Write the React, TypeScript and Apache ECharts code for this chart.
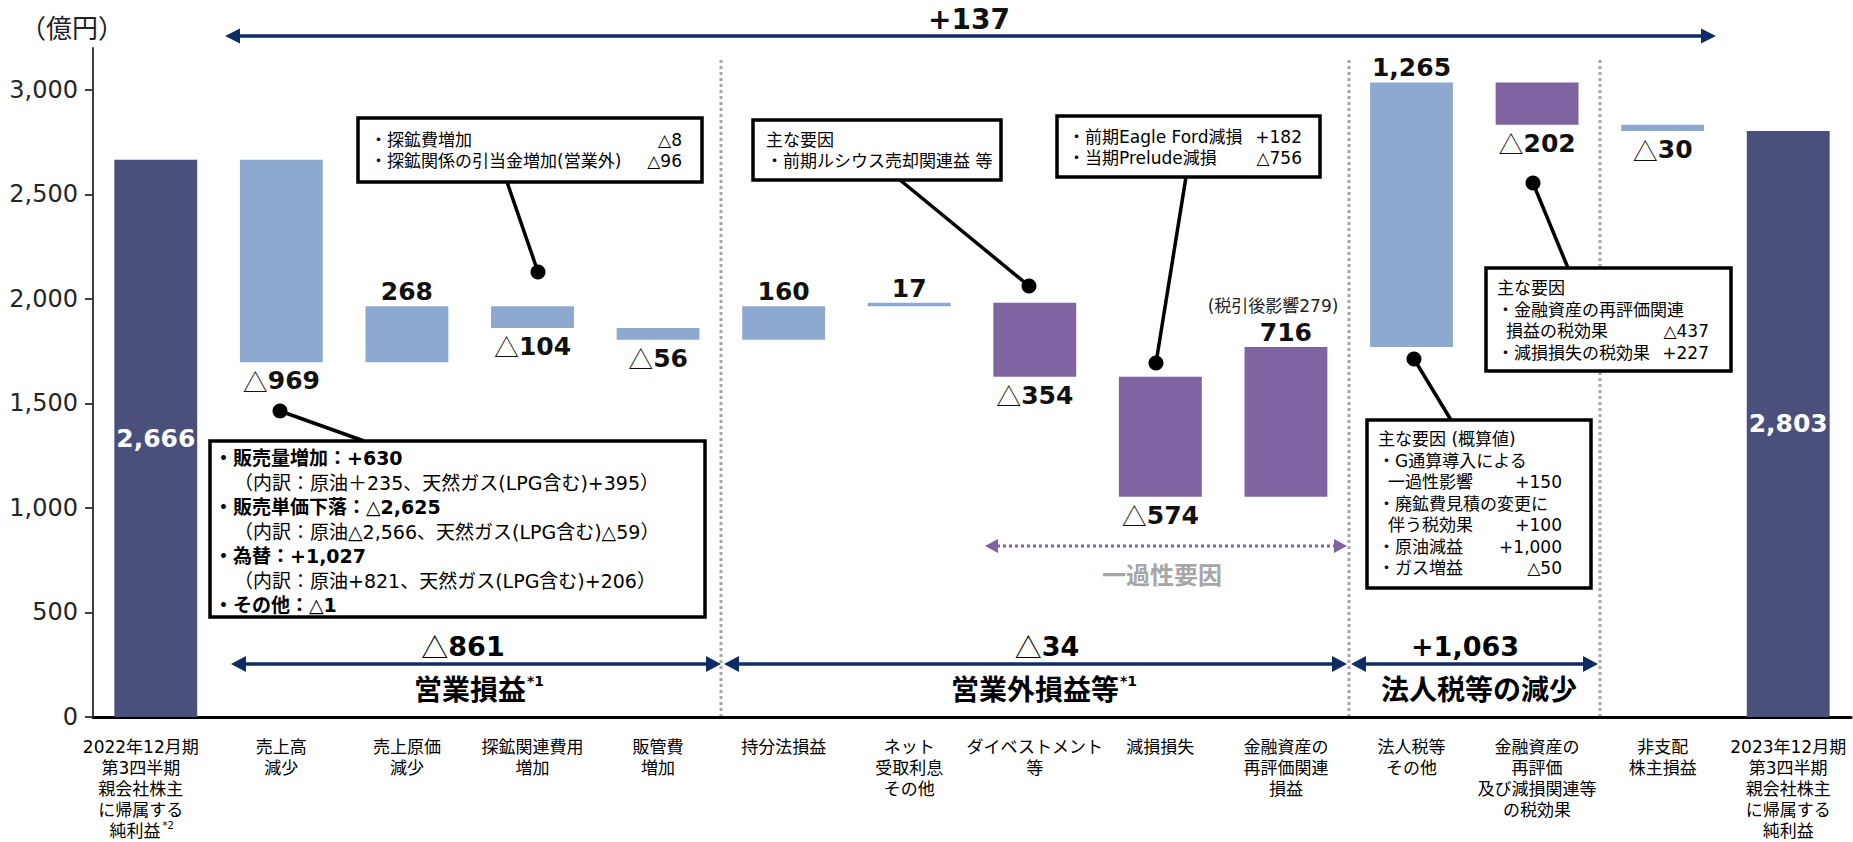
import React, { useEffect, useRef } from "react";
import * as echarts from "echarts";

const categories = [
  "2022年12月期\n第3四半期\n親会社株主\nに帰属する\n純利益*2",
  "売上高\n減少",
  "売上原価\n減少",
  "探鉱関連費用\n増加",
  "販管費\n増加",
  "持分法損益",
  "ネット\n受取利息\nその他",
  "ダイベストメント\n等",
  "減損損失",
  "金融資産の\n再評価関連\n損益",
  "法人税等\nその他",
  "金融資産の\n再評価\n及び減損関連等\nの税効果",
  "非支配\n株主損益",
  "2023年12月期\n第3四半期\n親会社株主\nに帰属する\n純利益",
];
const deltas = [2666, -969, 268, -104, -56, 160, 17, -354, -574, 716, 1265, -202, -30, 2803];
const barKinds = ["total", "blue", "blue", "blue", "blue", "blue", "blue", "purple", "purple", "purple", "blue", "purple", "blue", "total"];
const yTickValues = [0, 500, 1000, 1500, 2000, 2500, 3000];
const yMax = 3200;

const kindColors: Record<string, string> = { total: "#4A4F7C", blue: "#8EA9CF", purple: "#8064A2" };
const JP = '"Noto Sans CJK JP", sans-serif';
const MIX = '"DejaVu Sans", "Noto Sans CJK JP", sans-serif';
const NUM = '"DejaVu Sans", sans-serif';
const NAVY = "#102C64";

function fmt(n: number) {
  return Math.abs(n).toLocaleString("en-US");
}

function buildSeriesData() {
  const bases: number[] = [];
  const heights: number[] = [];
  let run = 0;
  deltas.forEach((d, i) => {
    if (barKinds[i] === "total") {
      bases.push(0);
      heights.push(d);
      run = d;
    } else {
      const next = run + d;
      bases.push(Math.min(run, next));
      heights.push(Math.abs(d));
      run = next;
    }
  });
  return { bases, heights };
}

const valueRich = {
  v: { fontFamily: NUM, fontWeight: "bold", fontSize: 25, color: "#111" },
  t: { fontFamily: JP, fontWeight: "normal", fontSize: 25, color: "#111" },
  w: { fontFamily: NUM, fontWeight: "bold", fontSize: 25, color: "#fff" },
};

function labelFor(i: number) {
  const d = deltas[i];
  if (barKinds[i] === "total") {
    const s = `{w|${fmt(d)}}`;
    return { show: true, position: "inside", formatter: () => s, rich: valueRich };
  }
  if (d >= 0) {
    const s = `{v|${fmt(d)}}`;
    return { show: true, position: "top", distance: 2, formatter: () => s, rich: valueRich };
  }
  const s = `{t|△}{v|${fmt(d)}}`;
  return { show: true, position: "bottom", distance: 6, formatter: () => s, rich: valueRich };
}

function txt(x: number, y: number, text: string, o: any = {}) {
  return {
    type: "text",
    x,
    y,
    silent: true,
    z: 20,
    style: {
      text,
      fill: o.fill || "#000",
      fontSize: o.fs || 17,
      fontFamily: o.ff || MIX,
      fontWeight: o.bold ? "bold" : "normal",
      lineHeight: o.lh,
      align: o.align || "left",
      textAlign: o.align || "left",
      verticalAlign: "middle",
      textVerticalAlign: "middle",
      rich: o.rich,
    },
  };
}

function hArrow(x1: number, x2: number, y: number, color: string, lw: number, head: number, half: number, dash?: number[]) {
  return [
    {
      type: "line",
      silent: true,
      z: 15,
      shape: { x1: x1 + head - 1, y1: y, x2: x2 - head + 1, y2: y },
      style: { stroke: color, lineWidth: lw, lineDash: dash || null },
    },
    {
      type: "polygon",
      silent: true,
      z: 15,
      shape: { points: [[x1, y], [x1 + head, y - half], [x1 + head, y + half]] },
      style: { fill: color },
    },
    {
      type: "polygon",
      silent: true,
      z: 15,
      shape: { points: [[x2, y], [x2 - head, y - half], [x2 - head, y + half]] },
      style: { fill: color },
    },
  ];
}

type BoxLine = { t: string; v?: string; bold?: boolean; dx?: number };
type Box = { x: number; y: number; w: number; h: number; tx: number; rx: number; y0: number; pitch: number; fs: number; lines: BoxLine[] };

const boxes: Box[] = [
  {
    x: 210, y: 441, w: 495, h: 176, tx: 214, rx: 0, y0: 458, pitch: 24.5, fs: 19,
    lines: [
      { t: "・販売量増加：+630", bold: true },
      { t: "（内訳：原油＋235、天然ガス(LPG含む)+395）", dx: 20 },
      { t: "・販売単価下落：△2,625", bold: true },
      { t: "（内訳：原油△2,566、天然ガス(LPG含む)△59）", dx: 20 },
      { t: "・為替：+1,027", bold: true },
      { t: "（内訳：原油+821、天然ガス(LPG含む)+206）", dx: 20 },
      { t: "・その他：△1", bold: true },
    ],
  },
  {
    x: 358, y: 118, w: 344, h: 64, tx: 370, rx: 682, y0: 140, pitch: 21, fs: 17,
    lines: [
      { t: "・探鉱費増加", v: "△8" },
      { t: "・探鉱関係の引当金増加(営業外)", v: "△96" },
    ],
  },
  {
    x: 753, y: 120, w: 248, h: 60, tx: 766, rx: 0, y0: 140, pitch: 21, fs: 17,
    lines: [{ t: "主な要因" }, { t: "・前期ルシウス売却関連益 等" }],
  },
  {
    x: 1057, y: 116, w: 263, h: 61, tx: 1068, rx: 1302, y0: 137, pitch: 20.5, fs: 17,
    lines: [
      { t: "・前期Eagle Ford減損", v: "+182" },
      { t: "・当期Prelude減損", v: "△756" },
    ],
  },
  {
    x: 1367, y: 420, w: 224, h: 168, tx: 1378, rx: 1562, y0: 439, pitch: 21.5, fs: 17,
    lines: [
      { t: "主な要因 (概算値)" },
      { t: "・G通算導入による" },
      { t: "一過性影響", v: "+150", dx: 10 },
      { t: "・廃鉱費見積の変更に" },
      { t: "伴う税効果", v: "+100", dx: 10 },
      { t: "・原油減益", v: "+1,000" },
      { t: "・ガス増益", v: "△50" },
    ],
  },
  {
    x: 1486, y: 268, w: 245, h: 103, tx: 1497, rx: 1709, y0: 288, pitch: 21.7, fs: 17,
    lines: [
      { t: "主な要因" },
      { t: "・金融資産の再評価関連" },
      { t: "損益の税効果", v: "△437", dx: 9 },
      { t: "・減損損失の税効果", v: "+227" },
    ],
  },
];

const connectors: number[][][] = [
  [[280, 411], [364, 441]],
  [[538, 272], [507, 182]],
  [[1029, 286], [900, 180]],
  [[1156, 363], [1186, 177]],
  [[1414, 359], [1451, 420]],
  [[1533, 183], [1568, 268]],
];

function buildGraphics() {
  const g: any[] = [];
  // unit
  g.push(txt(20, 26, "（億円）", { fs: 26, fill: "#222", ff: JP }));
  // separators
  [721, 1349, 1600].forEach((x) => {
    g.push({
      type: "line",
      silent: true,
      z: 5,
      shape: { x1: x, y1: 60, x2: x, y2: 716 },
      style: { stroke: "#A6A6A6", lineWidth: 3, lineDash: [3, 3] },
    });
  });
  // top arrow
  g.push(...hArrow(225, 1716, 36, NAVY, 3.5, 15, 7.5));
  g.push(txt(969, 19, "+137", { fs: 28, bold: true, ff: NUM, align: "center", fill: "#111" }));

  // bottom section arrows
  g.push(...hArrow(231, 721, 664, NAVY, 3.5, 15, 8));
  g.push(...hArrow(724, 1347, 664, NAVY, 3.5, 15, 8));
  g.push(...hArrow(1351, 1598, 664, NAVY, 3.5, 15, 8));
  const secRich = {
    t: { fontFamily: JP, fontWeight: "normal", fontSize: 27, color: "#111" },
    b: { fontFamily: NUM, fontWeight: "bold", fontSize: 27, color: "#111" },
    m: { fontFamily: JP, fontWeight: "bold", fontSize: 28, color: "#111" },
    s: { fontFamily: NUM, fontWeight: "bold", fontSize: 14, color: "#111", verticalAlign: "top", padding: [0, 0, 0, 1] },
  };
  g.push(txt(463, 646, "{t|△}{b|861}", { align: "center", rich: secRich }));
  g.push(txt(479, 688, "{m|営業損益}{s|*1}", { align: "center", rich: secRich }));
  g.push(txt(1047, 646, "{t|△}{b|34}", { align: "center", rich: secRich }));
  g.push(txt(1044, 688, "{m|営業外損益等}{s|*1}", { align: "center", rich: secRich }));
  g.push(txt(1465, 646, "{b|+1,063}", { align: "center", rich: secRich }));
  g.push(txt(1479, 688, "{m|法人税等の減少}", { align: "center", rich: secRich }));

  // one-off factor arrow
  g.push(...hArrow(985, 1347, 546, "#8064A2", 3, 13, 7, [3, 3]));
  g.push(txt(1162, 573, "一過性要因", { fs: 24, bold: true, fill: "#A6A6A6", align: "center", ff: JP }));

  // note above 716
  g.push(txt(1273, 306, "(税引後影響279)", { fs: 17, align: "center", fill: "#222" }));

  // connectors
  connectors.forEach(([a, b]) => {
    g.push({
      type: "line",
      silent: true,
      z: 18,
      shape: { x1: a[0], y1: a[1], x2: b[0], y2: b[1] },
      style: { stroke: "#000", lineWidth: 3.5 },
    });
    g.push({ type: "circle", silent: true, z: 18, shape: { cx: a[0], cy: a[1], r: 7.5 }, style: { fill: "#000" } });
  });

  // boxes
  boxes.forEach((b) => {
    g.push({
      type: "rect",
      silent: true,
      z: 19,
      shape: { x: b.x, y: b.y, width: b.w, height: b.h },
      style: { fill: "#fff", stroke: "#000", lineWidth: 3.5 },
    });
    b.lines.forEach((l, i) => {
      const y = b.y0 + i * b.pitch;
      const lh = Math.floor(b.pitch) - 1;
      g.push(txt(b.tx + (l.dx || 0), y, l.t, { fs: b.fs, bold: l.bold, lh }));
      if (l.v) g.push(txt(b.rx, y, l.v, { fs: b.fs, align: "right", lh }));
    });
  });
  return g;
}

const catRichBase = { fontSize: 17, fontFamily: MIX, color: "#000", lineHeight: 21 };

export default function App() {
  const ref = useRef<HTMLDivElement>(null);
  useEffect(() => {
    if (!ref.current) return;
    const chart = echarts.init(ref.current, undefined, { renderer: "svg" });
    const { bases, heights } = buildSeriesData();
    const option: any = {
      animation: false,
      grid: { left: 93, right: 2, top: 48, bottom: 125, containLabel: false },
      xAxis: {
        type: "category",
        data: categories,
        axisLine: { lineStyle: { color: "#000", width: 3 } },
        axisTick: { show: false },
        axisLabel: {
          interval: 0,
          margin: 19,
          fontSize: 17,
          lineHeight: 21,
          fontFamily: MIX,
          color: "#000",
          formatter: (v: string, idx: number) => {
            if (idx !== 0) return v;
            return v
              .split("\n")
              .map((l) => (l.includes("*2") ? `{n0|${l.replace("*2", "")}}{sup0|*2}` : `{p0|${l}}`))
              .join("\n");
          },
          rich: {
            n0: { ...catRichBase },
            p0: { ...catRichBase, padding: [0, 30, 0, 0] },
            sup0: { fontSize: 10, fontFamily: NUM, color: "#000", verticalAlign: "top", lineHeight: 21, padding: [0, 28, 0, 2] },
          },
        },
      },
      yAxis: {
        type: "value",
        min: 0,
        max: yMax,
        interval: 500,
        splitLine: { show: false },
        axisLine: { show: true, lineStyle: { color: "#404040", width: 2 } },
        axisTick: { show: true, length: 8, lineStyle: { color: "#404040", width: 2 }, customValues: yTickValues },
        axisLabel: {
          customValues: yTickValues,
          fontSize: 24,
          fontFamily: NUM,
          color: "#262626",
          margin: 15,
          formatter: (v: number) => Number(v).toLocaleString("en-US"),
        },
      },
      series: [
        {
          type: "bar",
          stack: "w",
          barWidth: "66%",
          silent: true,
          itemStyle: { color: "transparent" },
          data: bases,
        },
        {
          type: "bar",
          stack: "w",
          barWidth: "66%",
          data: heights.map((h, i) => ({
            value: h,
            itemStyle: { color: kindColors[barKinds[i]] },
            label: labelFor(i),
          })),
        },
      ],
      graphic: buildGraphics(),
    };
    chart.setOption(option);
    return () => chart.dispose();
  }, []);
  return (
    <div
      ref={ref}
      style={{ position: "fixed", left: 0, top: 0, width: "1853px", height: "842px", background: "#fff" }}
    />
  );
}
